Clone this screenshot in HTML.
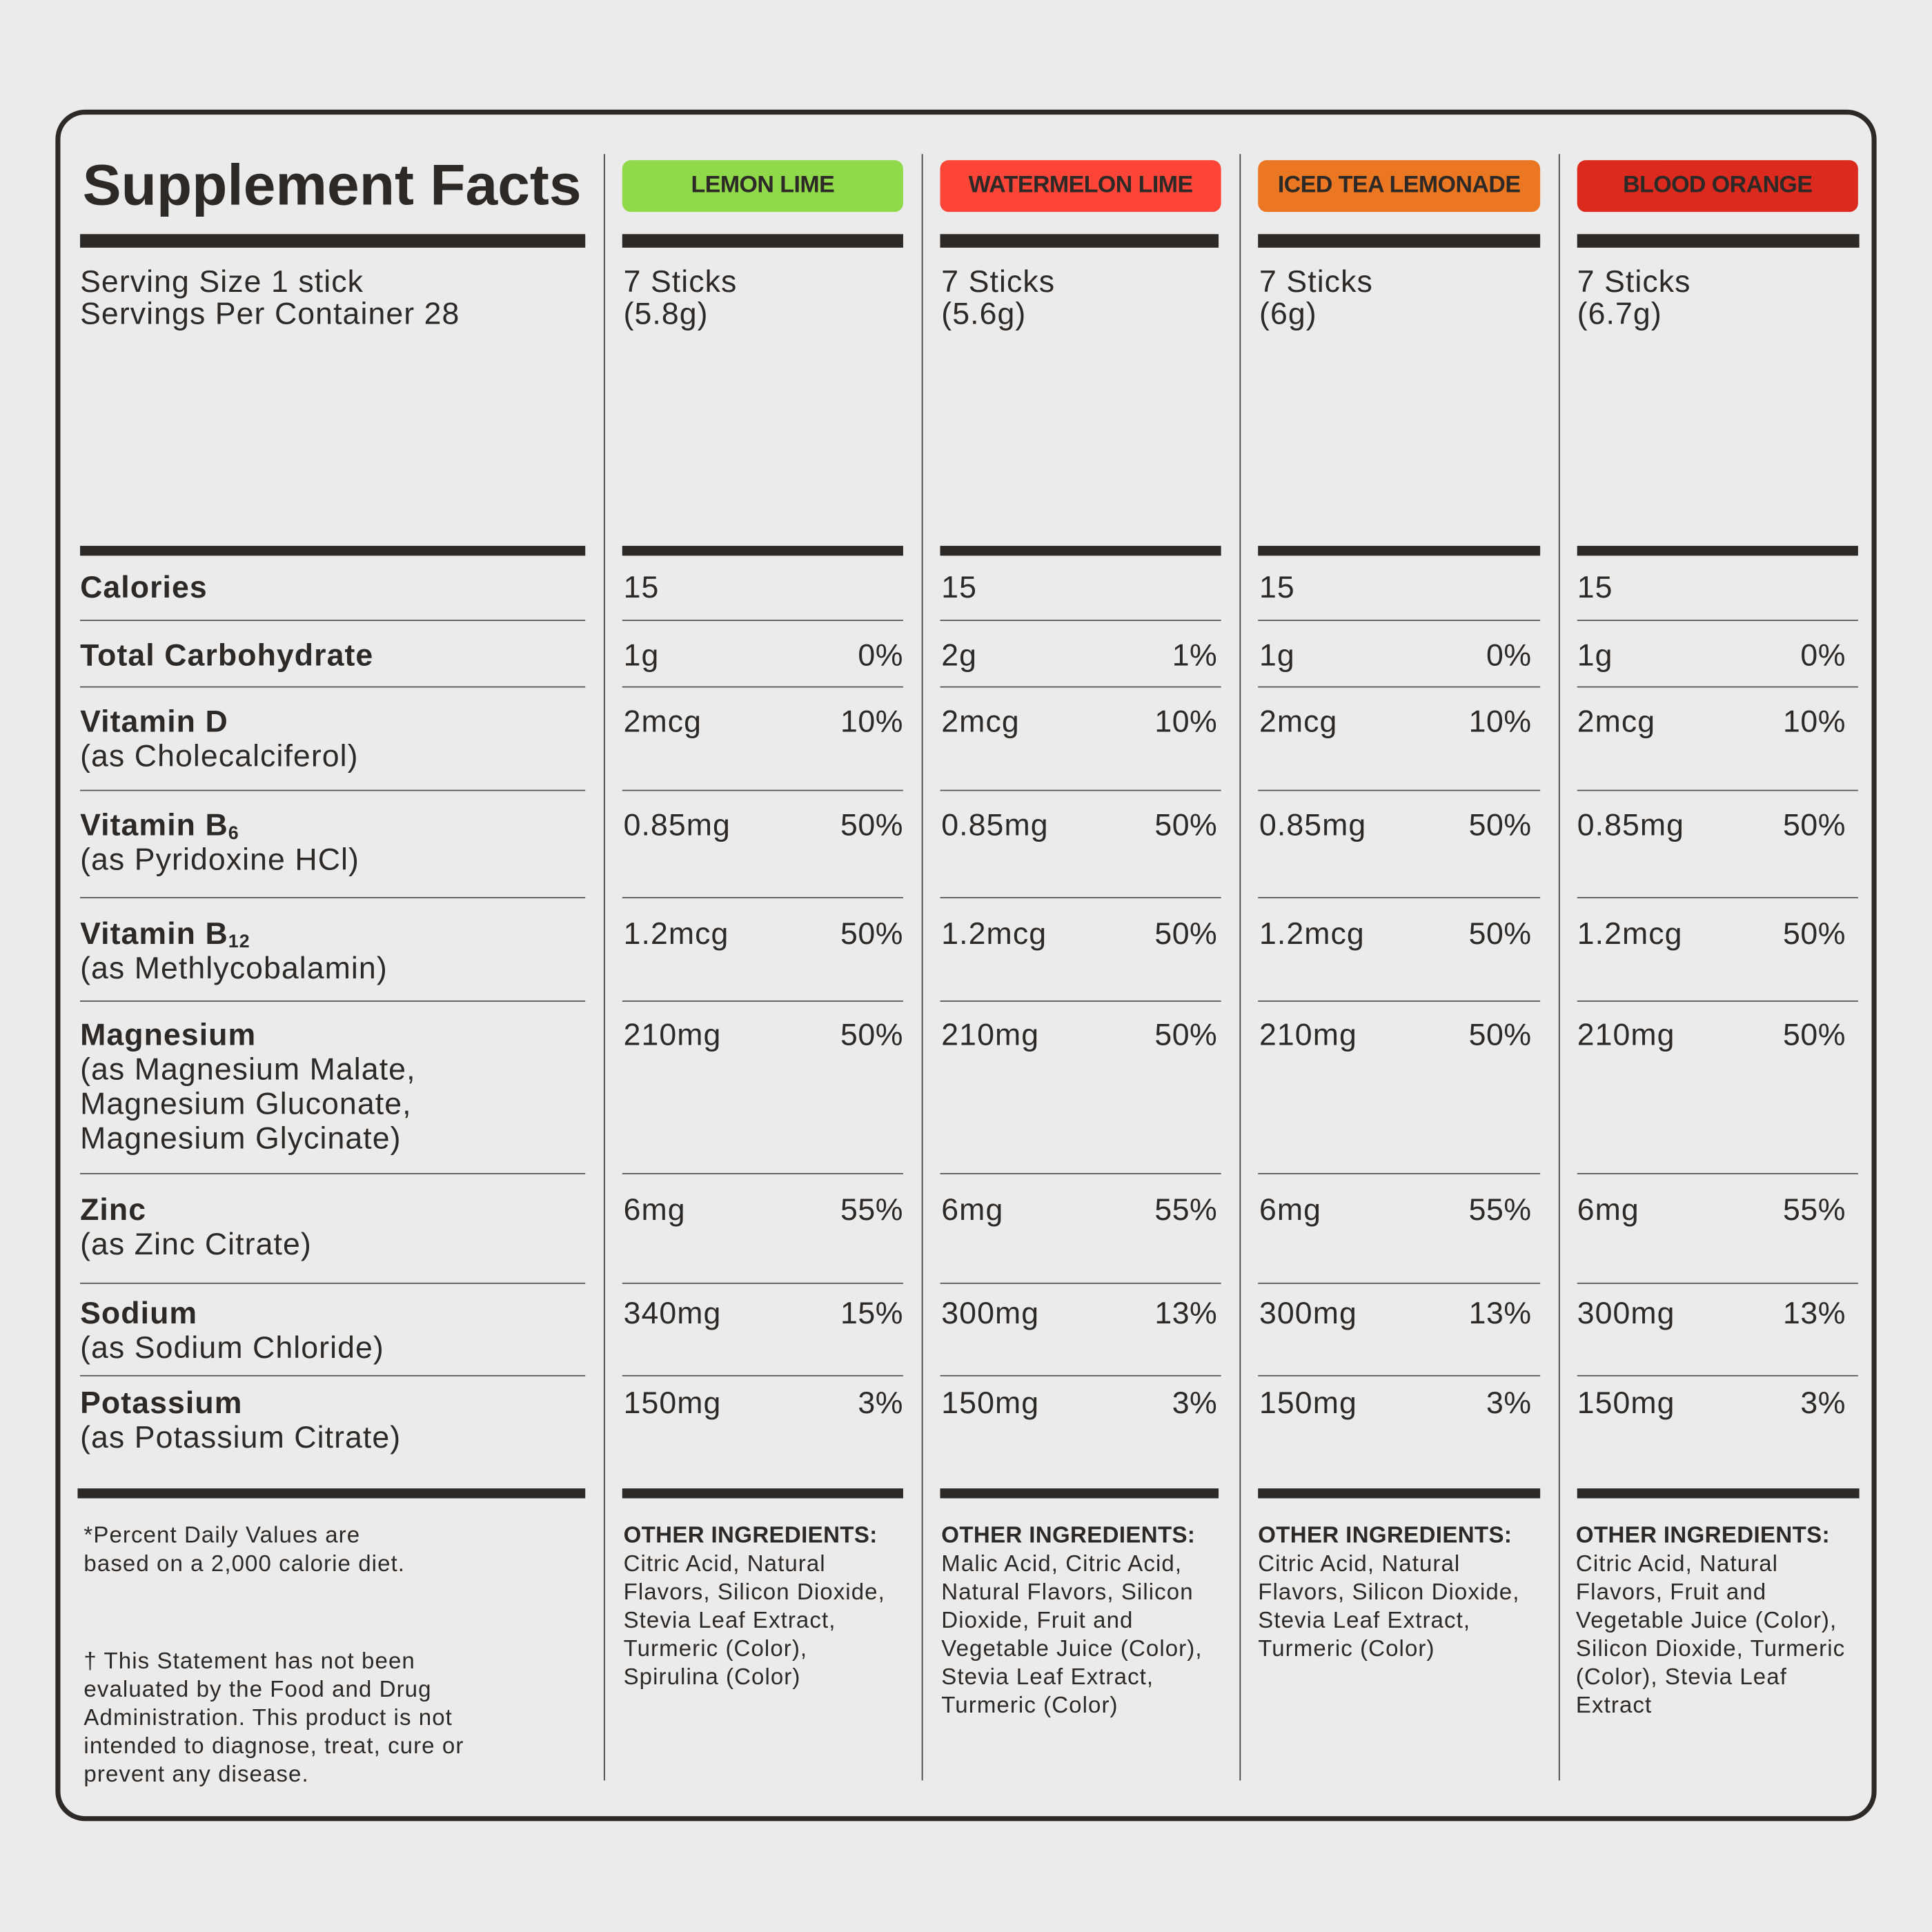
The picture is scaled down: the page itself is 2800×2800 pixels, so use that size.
<!DOCTYPE html>
<html><head><meta charset="utf-8"><style>
html,body{margin:0;padding:0;background:#ebebeb;width:2800px;height:2800px;overflow:hidden}
#w{position:absolute;left:0;top:0;width:1568px;height:1568px;transform:scale(1.785714);transform-origin:0 0;font-family:"Liberation Sans",sans-serif;color:#2d2926}
.card{position:absolute;left:45px;top:89px;width:1470px;height:1381px;border:4px solid #2d2926;border-radius:24px}
.v{position:absolute;top:125px;width:1.3px;height:1320px;background:#444}
.tb{position:absolute;height:11px;background:#2d2926}
.mb{position:absolute;height:8px;background:#2d2926}
.sl{position:absolute;height:1.3px;background:#555}
.t{position:absolute;white-space:nowrap;font-size:25px;line-height:28px;letter-spacing:0.6px;margin-top:1px}
.b{font-weight:bold}
.r{text-align:right;letter-spacing:0.3px}
.badge{position:absolute;top:130px;height:42px;border-radius:7px;font-weight:bold;font-size:19px;line-height:42px;text-align:center;letter-spacing:-0.3px}
.s{position:absolute;font-size:18.5px;line-height:23px;white-space:nowrap;letter-spacing:0.6px;margin-top:1px}
sub{font-size:15px;vertical-align:-3px;line-height:0}
</style></head><body><div id="w">
<div class="card"></div>
<div class="v" style="left:490px"></div><div class="v" style="left:748px"></div><div class="v" style="left:1006px"></div><div class="v" style="left:1265px"></div>

<div class="t b" style="left:67px;top:121px;font-size:47px;line-height:56px;letter-spacing:0px">Supplement Facts</div>
<div class="badge" style="left:505px;width:228px;background:#8fd94a">LEMON LIME</div>
<div class="badge" style="left:763px;width:228px;background:#ff4438">WATERMELON LIME</div>
<div class="badge" style="left:1021px;width:229px;background:#ec7723">ICED TEA LEMONADE</div>
<div class="badge" style="left:1280px;width:228px;background:#dc2a1e">BLOOD ORANGE</div>

<div class="tb" style="left:65px;width:410px;top:190px"></div>
<div class="tb" style="left:505px;width:228px;top:190px"></div>
<div class="tb" style="left:763px;width:226px;top:190px"></div>
<div class="tb" style="left:1021px;width:229px;top:190px"></div>
<div class="tb" style="left:1280px;width:229px;top:190px"></div>

<div class="t" style="left:65px;top:215px;line-height:26px">Serving Size 1 stick<br>Servings Per Container 28</div>
<div class="t" style="left:506px;top:215px;line-height:26px">7 Sticks<br>(5.8g)</div>
<div class="t" style="left:764px;top:215px;line-height:26px">7 Sticks<br>(5.6g)</div>
<div class="t" style="left:1022px;top:215px;line-height:26px">7 Sticks<br>(6g)</div>
<div class="t" style="left:1280px;top:215px;line-height:26px">7 Sticks<br>(6.7g)</div>

<div class="mb" style="left:65px;width:410px;top:443px"></div>
<div class="mb" style="left:505px;width:228px;top:443px"></div>
<div class="mb" style="left:763px;width:228px;top:443px"></div>
<div class="mb" style="left:1021px;width:229px;top:443px"></div>
<div class="mb" style="left:1280px;width:228px;top:443px"></div>

<!-- separators -->
<div class="sl" style="left:65px;width:410px;top:503px"></div><div class="sl" style="left:505px;width:228px;top:503px"></div><div class="sl" style="left:763px;width:228px;top:503px"></div><div class="sl" style="left:1021px;width:229px;top:503px"></div><div class="sl" style="left:1280px;width:228px;top:503px"></div>
<div class="sl" style="left:65px;width:410px;top:557px"></div><div class="sl" style="left:505px;width:228px;top:557px"></div><div class="sl" style="left:763px;width:228px;top:557px"></div><div class="sl" style="left:1021px;width:229px;top:557px"></div><div class="sl" style="left:1280px;width:228px;top:557px"></div>
<div class="sl" style="left:65px;width:410px;top:641px"></div><div class="sl" style="left:505px;width:228px;top:641px"></div><div class="sl" style="left:763px;width:228px;top:641px"></div><div class="sl" style="left:1021px;width:229px;top:641px"></div><div class="sl" style="left:1280px;width:228px;top:641px"></div>
<div class="sl" style="left:65px;width:410px;top:728px"></div><div class="sl" style="left:505px;width:228px;top:728px"></div><div class="sl" style="left:763px;width:228px;top:728px"></div><div class="sl" style="left:1021px;width:229px;top:728px"></div><div class="sl" style="left:1280px;width:228px;top:728px"></div>
<div class="sl" style="left:65px;width:410px;top:812px"></div><div class="sl" style="left:505px;width:228px;top:812px"></div><div class="sl" style="left:763px;width:228px;top:812px"></div><div class="sl" style="left:1021px;width:229px;top:812px"></div><div class="sl" style="left:1280px;width:228px;top:812px"></div>
<div class="sl" style="left:65px;width:410px;top:952px"></div><div class="sl" style="left:505px;width:228px;top:952px"></div><div class="sl" style="left:763px;width:228px;top:952px"></div><div class="sl" style="left:1021px;width:229px;top:952px"></div><div class="sl" style="left:1280px;width:228px;top:952px"></div>
<div class="sl" style="left:65px;width:410px;top:1041px"></div><div class="sl" style="left:505px;width:228px;top:1041px"></div><div class="sl" style="left:763px;width:228px;top:1041px"></div><div class="sl" style="left:1021px;width:229px;top:1041px"></div><div class="sl" style="left:1280px;width:228px;top:1041px"></div>
<div class="sl" style="left:65px;width:410px;top:1116px"></div><div class="sl" style="left:505px;width:228px;top:1116px"></div><div class="sl" style="left:763px;width:228px;top:1116px"></div><div class="sl" style="left:1021px;width:229px;top:1116px"></div><div class="sl" style="left:1280px;width:228px;top:1116px"></div>

<!-- labels -->
<div class="t b" style="left:65px;top:462px">Calories</div>
<div class="t b" style="left:65px;top:517px">Total Carbohydrate</div>
<div class="t" style="left:65px;top:571px"><span class="b">Vitamin D</span><br>(as Cholecalciferol)</div>
<div class="t" style="left:65px;top:655px"><span class="b">Vitamin B<sub>6</sub></span><br>(as Pyridoxine HCl)</div>
<div class="t" style="left:65px;top:743px"><span class="b">Vitamin B<sub>12</sub></span><br>(as Methlycobalamin)</div>
<div class="t" style="left:65px;top:825px"><span class="b">Magnesium</span><br>(as Magnesium Malate,<br>Magnesium Gluconate,<br>Magnesium Glycinate)</div>
<div class="t" style="left:65px;top:967px"><span class="b">Zinc</span><br>(as Zinc Citrate)</div>
<div class="t" style="left:65px;top:1051px"><span class="b">Sodium</span><br>(as Sodium Chloride)</div>
<div class="t" style="left:65px;top:1124px"><span class="b">Potassium</span><br>(as Potassium Citrate)</div>

<!-- col1 -->
<div class="t" style="left:506px;top:462px">15</div>
<div class="t" style="left:506px;top:517px">1g</div><div class="t r" style="right:835px;top:517px">0%</div>
<div class="t" style="left:506px;top:571px">2mcg</div><div class="t r" style="right:835px;top:571px">10%</div>
<div class="t" style="left:506px;top:655px">0.85mg</div><div class="t r" style="right:835px;top:655px">50%</div>
<div class="t" style="left:506px;top:743px">1.2mcg</div><div class="t r" style="right:835px;top:743px">50%</div>
<div class="t" style="left:506px;top:825px">210mg</div><div class="t r" style="right:835px;top:825px">50%</div>
<div class="t" style="left:506px;top:967px">6mg</div><div class="t r" style="right:835px;top:967px">55%</div>
<div class="t" style="left:506px;top:1051px">340mg</div><div class="t r" style="right:835px;top:1051px">15%</div>
<div class="t" style="left:506px;top:1124px">150mg</div><div class="t r" style="right:835px;top:1124px">3%</div>
<!-- col2 -->
<div class="t" style="left:764px;top:462px">15</div>
<div class="t" style="left:764px;top:517px">2g</div><div class="t r" style="right:580px;top:517px">1%</div>
<div class="t" style="left:764px;top:571px">2mcg</div><div class="t r" style="right:580px;top:571px">10%</div>
<div class="t" style="left:764px;top:655px">0.85mg</div><div class="t r" style="right:580px;top:655px">50%</div>
<div class="t" style="left:764px;top:743px">1.2mcg</div><div class="t r" style="right:580px;top:743px">50%</div>
<div class="t" style="left:764px;top:825px">210mg</div><div class="t r" style="right:580px;top:825px">50%</div>
<div class="t" style="left:764px;top:967px">6mg</div><div class="t r" style="right:580px;top:967px">55%</div>
<div class="t" style="left:764px;top:1051px">300mg</div><div class="t r" style="right:580px;top:1051px">13%</div>
<div class="t" style="left:764px;top:1124px">150mg</div><div class="t r" style="right:580px;top:1124px">3%</div>
<!-- col3 -->
<div class="t" style="left:1022px;top:462px">15</div>
<div class="t" style="left:1022px;top:517px">1g</div><div class="t r" style="right:325px;top:517px">0%</div>
<div class="t" style="left:1022px;top:571px">2mcg</div><div class="t r" style="right:325px;top:571px">10%</div>
<div class="t" style="left:1022px;top:655px">0.85mg</div><div class="t r" style="right:325px;top:655px">50%</div>
<div class="t" style="left:1022px;top:743px">1.2mcg</div><div class="t r" style="right:325px;top:743px">50%</div>
<div class="t" style="left:1022px;top:825px">210mg</div><div class="t r" style="right:325px;top:825px">50%</div>
<div class="t" style="left:1022px;top:967px">6mg</div><div class="t r" style="right:325px;top:967px">55%</div>
<div class="t" style="left:1022px;top:1051px">300mg</div><div class="t r" style="right:325px;top:1051px">13%</div>
<div class="t" style="left:1022px;top:1124px">150mg</div><div class="t r" style="right:325px;top:1124px">3%</div>
<!-- col4 -->
<div class="t" style="left:1280px;top:462px">15</div>
<div class="t" style="left:1280px;top:517px">1g</div><div class="t r" style="right:70px;top:517px">0%</div>
<div class="t" style="left:1280px;top:571px">2mcg</div><div class="t r" style="right:70px;top:571px">10%</div>
<div class="t" style="left:1280px;top:655px">0.85mg</div><div class="t r" style="right:70px;top:655px">50%</div>
<div class="t" style="left:1280px;top:743px">1.2mcg</div><div class="t r" style="right:70px;top:743px">50%</div>
<div class="t" style="left:1280px;top:825px">210mg</div><div class="t r" style="right:70px;top:825px">50%</div>
<div class="t" style="left:1280px;top:967px">6mg</div><div class="t r" style="right:70px;top:967px">55%</div>
<div class="t" style="left:1280px;top:1051px">300mg</div><div class="t r" style="right:70px;top:1051px">13%</div>
<div class="t" style="left:1280px;top:1124px">150mg</div><div class="t r" style="right:70px;top:1124px">3%</div>

<div class="mb" style="left:63px;width:412px;top:1208px"></div>
<div class="mb" style="left:505px;width:228px;top:1208px"></div>
<div class="mb" style="left:763px;width:226px;top:1208px"></div>
<div class="mb" style="left:1021px;width:229px;top:1208px"></div>
<div class="mb" style="left:1280px;width:229px;top:1208px"></div>

<div class="s" style="left:68px;top:1233px">*Percent Daily Values are<br>based on a 2,000 calorie diet.</div>
<div class="s" style="left:68px;top:1335px">† This Statement has not been<br>evaluated by the Food and Drug<br>Administration. This product is not<br>intended to diagnose, treat, cure or<br>prevent any disease.</div>

<div class="s" style="left:506px;top:1233px"><b style="letter-spacing:0.2px">OTHER INGREDIENTS:</b><br>Citric Acid, Natural<br>Flavors, Silicon Dioxide,<br>Stevia Leaf Extract,<br>Turmeric (Color),<br>Spirulina (Color)</div>
<div class="s" style="left:764px;top:1233px"><b style="letter-spacing:0.2px">OTHER INGREDIENTS:</b><br>Malic Acid, Citric Acid,<br>Natural Flavors, Silicon<br>Dioxide, Fruit and<br>Vegetable Juice (Color),<br>Stevia Leaf Extract,<br>Turmeric (Color)</div>
<div class="s" style="left:1021px;top:1233px"><b style="letter-spacing:0.2px">OTHER INGREDIENTS:</b><br>Citric Acid, Natural<br>Flavors, Silicon Dioxide,<br>Stevia Leaf Extract,<br>Turmeric (Color)</div>
<div class="s" style="left:1279px;top:1233px"><b style="letter-spacing:0.2px">OTHER INGREDIENTS:</b><br>Citric Acid, Natural<br>Flavors, Fruit and<br>Vegetable Juice (Color),<br>Silicon Dioxide, Turmeric<br>(Color), Stevia Leaf<br>Extract</div>
</div></body></html>
